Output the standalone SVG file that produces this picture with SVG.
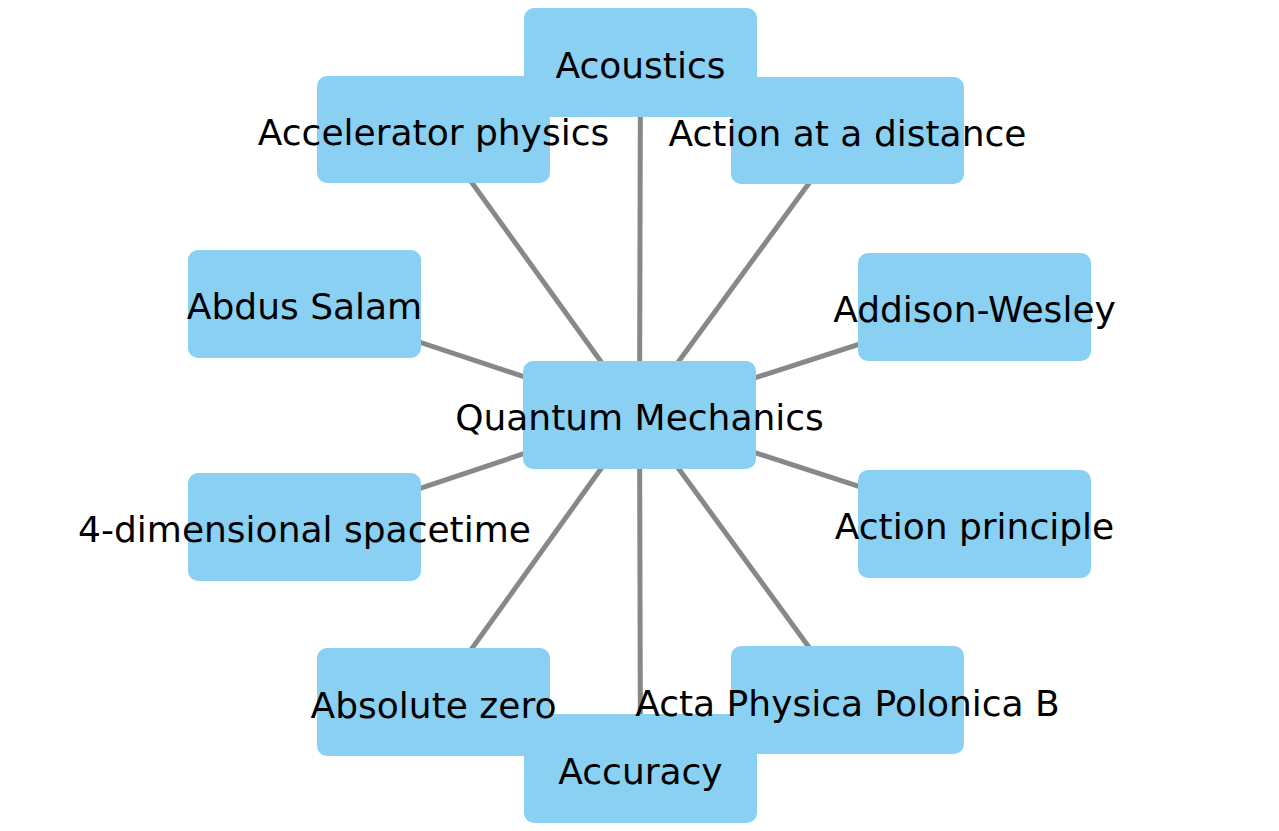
<svg xmlns="http://www.w3.org/2000/svg" width="1279" height="831" viewBox="0 0 1279 831">
<style>
.box{fill:#89d0f3;}
.lbl{font-family:"DejaVu Sans",sans-serif;font-size:36px;fill:#000;text-anchor:middle;dominant-baseline:central;}
.edge{stroke:#888;stroke-width:5;fill:none;}
</style>
<rect width="1279" height="831" fill="#fff"/>
<g id="connectors">
<line class="edge" x1="639.5" y1="415" x2="640.5" y2="62.5"/>
<line class="edge" x1="639.5" y1="415" x2="433.5" y2="129.5"/>
<line class="edge" x1="639.5" y1="415" x2="847.5" y2="130.5"/>
<line class="edge" x1="639.5" y1="415" x2="304.5" y2="304"/>
<line class="edge" x1="639.5" y1="415" x2="974.5" y2="307"/>
<line class="edge" x1="639.5" y1="415" x2="304.5" y2="527"/>
<line class="edge" x1="639.5" y1="415" x2="974.5" y2="524"/>
<line class="edge" x1="639.5" y1="415" x2="433.5" y2="702"/>
<line class="edge" x1="639.5" y1="415" x2="847.5" y2="700"/>
<line class="edge" x1="639.5" y1="415" x2="640.5" y2="768.5"/>
</g>
<g id="nodes-boxes">
<g id="n-accelerator"><rect class="box" x="317" y="76" width="233" height="107" rx="10"/></g>
<g id="n-action-distance"><rect class="box" x="731" y="77" width="233" height="107" rx="10"/></g>
<g id="n-acoustics"><rect class="box" x="524" y="8" width="233" height="109" rx="10"/></g>
<g id="n-abdus"><rect class="box" x="188" y="250" width="233" height="108" rx="10"/></g>
<g id="n-addison"><rect class="box" x="858" y="253" width="233" height="108" rx="10"/></g>
<g id="n-qm"><rect class="box" x="523" y="361" width="233" height="108" rx="10"/></g>
<g id="n-4d"><rect class="box" x="188" y="473" width="233" height="108" rx="10"/></g>
<g id="n-action-principle"><rect class="box" x="858" y="470" width="233" height="108" rx="10"/></g>
<g id="n-absolute"><rect class="box" x="317" y="648" width="233" height="108" rx="10"/></g>
<g id="n-acta"><rect class="box" x="731" y="646" width="233" height="108" rx="10"/></g>
<g id="n-accuracy"><rect class="box" x="524" y="714" width="233" height="109" rx="10"/></g>
</g>
<g id="labels">
<text class="lbl" x="640.5" y="65">Acoustics</text>
<text class="lbl" x="433.5" y="132">Accelerator physics</text>
<text class="lbl" x="847.5" y="133">Action at a distance</text>
<text class="lbl" x="304.5" y="306">Abdus Salam</text>
<text class="lbl" x="974.5" y="309">Addison-Wesley</text>
<text class="lbl" x="639.5" y="417">Quantum Mechanics</text>
<text class="lbl" x="304.5" y="529">4-dimensional spacetime</text>
<text class="lbl" x="974.5" y="526">Action principle</text>
<text class="lbl" x="433.5" y="705">Absolute zero</text>
<text class="lbl" x="847.5" y="703">Acta Physica Polonica B</text>
<text class="lbl" x="640.5" y="771">Accuracy</text>
</g>
</svg>
